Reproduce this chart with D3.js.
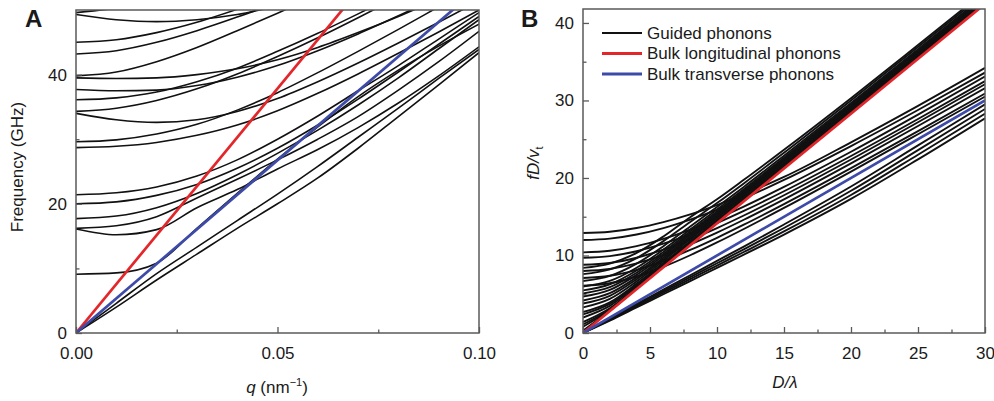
<!DOCTYPE html>
<html><head><meta charset="utf-8">
<script src="https://cdn.jsdelivr.net/npm/d3@7"></script>
<style>
body{margin:0;background:#fff;}
svg{font-family:Arial,"Liberation Sans",sans-serif;}
</style></head><body>
<svg id="chart" width="994" height="401"></svg>
<script>
// ---------- Panel A data ----------
const qGridA = [0, 0.01, 0.02, 0.03, 0.04, 0.05, 0.06, 0.07, 0.08, 0.09, 0.10];
const guidedA = [
  [0, 4.0, 8.2, 12.2, 16.2, 20.0, 24.0, 28.6, 33.5, 38.4, 43.4],
  [0, 4.6, 9.2, 13.3, 17.4, 21.5, 25.8, 30.3, 34.8, 39.4, 43.9],
  [9.1, 9.3, 10.8, 16.2, 21.6, 26.9, 31.9, 36.6, 40.7, 44.4, 47.8],
  [16.1, 15.2, 16.0, 19.4, 22.2, 25.4, 28.4, 31.8, 35.6, 39.8, 44.3],
  [16.2, 16.6, 18.0, 20.9, 23.8, 26.8, 30.0, 33.5, 37.6, 42.0, 46.7],
  [17.7, 18.1, 19.4, 21.6, 24.5, 27.8, 31.4, 35.3, 39.5, 44.0, 48.5],
  [20.0, 20.3, 21.3, 23.0, 25.5, 28.6, 32.2, 36.2, 40.4, 44.7, 49.0],
  [21.4, 21.7, 22.6, 24.3, 26.8, 30.0, 33.6, 37.5, 41.4, 45.5, 49.6],
  [28.7, 28.9, 29.5, 30.6, 32.2, 34.4, 37.1, 40.1, 43.3, 46.6, 50.0],
  [29.6, 29.9, 30.8, 32.3, 34.5, 37.2, 40.3, 43.6, 47.0, 50.5, 54.0],
  [34.0, 33.0, 32.6, 33.0, 34.3, 36.3, 38.9, 41.8, 44.9, 48.1, 51.4],
  [34.3, 34.8, 36.0, 37.8, 40.1, 42.8, 45.7, 48.8, 52.0],
  [36.1, 36.4, 37.3, 38.9, 41.0, 43.6, 46.4, 49.4, 52.5],
  [37.7, 37.5, 37.6, 38.3, 39.6, 41.4, 43.7, 46.3, 49.1, 52.0],
  [39.5, 39.4, 39.5, 40.0, 40.9, 42.3, 44.2, 46.5, 49.0, 51.7],
  [39.8, 40.4, 42.0, 44.2, 46.8, 49.5, 52.3],
  [43.2, 43.7, 45.0, 46.8, 48.9, 51.2],
  [45.0, 45.4, 46.5, 48.1, 50.1, 52.3],
  [49.3, 48.5, 48.2, 48.5, 49.3, 50.6],
  [49.6, 50.3, 51.5]
];
const bulkSpeedsA = [757, 535];            // longitudinal, transverse (GHz·nm)
const xTicksA = [0, 0.05, 0.10];
const xMinorA = [0.025, 0.075];
const yTicksA = [0, 20, 40];
const yMinorA = [10, 30];

// ---------- Panel B data ----------
const xGridB = [0, 2, 4, 6, 8, 10, 12, 15, 20, 25, 30];
const guidedB = [
  // modes bunching along the longitudinal line
  [0.3, 2.86, 5.7, 8.54, 11.37, 14.2, 17.03, 21.28, 28.35, 35.43, 42.5],
  [0.8, 2.96, 5.76, 8.59, 11.43, 14.25, 17.08, 21.32, 28.39, 35.47, 42.54],
  [1.1, 3.06, 5.81, 8.64, 11.47, 14.29, 17.12, 21.36, 28.42, 35.5, 42.56],
  [1.4, 3.19, 5.89, 8.69, 11.53, 14.34, 17.16, 21.4, 28.46, 35.53, 42.59],
  [2.0, 3.5, 6.08, 8.83, 11.65, 14.44, 17.25, 21.48, 28.52, 35.59, 42.65],
  [2.4, 3.75, 6.23, 8.96, 11.74, 14.52, 17.32, 21.54, 28.57, 35.63, 42.69],
  [2.7, 3.95, 6.37, 9.05, 11.83, 14.6, 17.38, 21.59, 28.62, 35.67, 42.73],
  [3.3, 4.41, 6.66, 9.32, 12.09, 14.83, 17.6, 21.78, 28.79, 35.83, 42.88],
  [3.8, 4.8, 6.93, 9.53, 12.28, 14.99, 17.74, 21.91, 28.89, 35.92, 42.96],
  [4.2, 5.14, 7.18, 9.73, 12.45, 15.14, 17.87, 22.02, 28.99, 36.01, 43.04],
  [4.7, 5.56, 7.5, 9.98, 12.68, 15.33, 18.04, 22.16, 29.11, 36.11, 43.13],
  [5.1, 5.91, 7.77, 10.2, 12.86, 15.49, 18.18, 22.28, 29.21, 36.2, 43.21],
  [5.5, 6.27, 8.06, 10.45, 13.09, 15.68, 18.35, 22.43, 29.33, 36.3, 43.3],
  [6.0, 6.72, 8.42, 10.77, 13.36, 15.92, 18.56, 22.61, 29.48, 36.43, 43.42],
  [6.7, 7.36, 8.95, 11.2, 13.75, 16.26, 18.85, 22.87, 29.68, 36.6, 43.58],
  [7.6, 8.21, 9.67, 11.85, 14.33, 16.76, 19.3, 23.25, 30.0, 36.89, 43.83],
  [8.4, 8.96, 10.33, 12.45, 14.94, 17.25, 19.76, 23.64, 30.3, 37.16, 44.07],
  // modes approaching the transverse line from above
  [12.9, 13.06, 13.54, 14.31, 15.31, 16.51, 17.87, 20.13, 24.6, 29.3, 34.2],
  [12.0, 12.18, 12.71, 13.54, 14.63, 15.92, 17.37, 19.75, 24.12, 28.77, 33.6],
  [10.4, 10.61, 11.21, 12.15, 13.35, 14.76, 16.31, 18.84, 23.38, 28.17, 33.1],
  [9.7, 9.92, 10.55, 11.52, 12.75, 14.18, 15.75, 18.29, 22.84, 27.61, 32.5],
  [8.8, 9.03, 9.71, 10.75, 12.05, 13.54, 15.16, 17.77, 22.38, 27.19, 32.1],
  [8.0, 8.26, 8.98, 10.07, 11.42, 12.95, 14.61, 17.25, 21.89, 26.7, 31.6],
  [7.1, 7.38, 8.15, 9.31, 10.71, 12.28, 13.97, 16.63, 21.27, 26.05, 30.9],
  [6.1, 6.42, 7.29, 8.54, 10.03, 11.68, 13.42, 16.14, 20.83, 25.64, 30.5],
  // fundamental modes below the transverse line
  [0, 1.6, 3.3, 5.0, 6.7, 8.4, 10.1, 12.7, 17.3, 22.4, 27.7],
  [0, 1.7, 3.45, 5.2, 6.95, 8.7, 10.45, 13.1, 17.8, 23.0, 28.3],
  [0, 1.8, 3.6, 5.4, 7.2, 9.0, 10.8, 13.55, 18.35, 23.6, 28.9],
  [0, 1.9, 3.75, 5.6, 7.45, 9.3, 11.15, 14.0, 18.9, 24.2, 29.5]
];
const bulkSlopesB = [1.415, 1.0];          // longitudinal, transverse (normalised)
const xTicksB = [0, 5, 10, 15, 20, 25, 30];
const xMinorB = [2.5, 7.5, 12.5, 17.5, 22.5, 27.5];
const yTicksB = [0, 10, 20, 30, 40];
const yMinorB = [5, 15, 25, 35];
const legendLabels = ["Guided phonons", "Bulk longitudinal phonons", "Bulk transverse phonons"];
const seriesColors = ["#111111", "#e3262a", "#3d4aa8"];

// ---------- drawing ----------
const svg = d3.select("#chart");
const FRAME = "#5a5a5a", TXT = "#1a1a1a";

const xA = d3.scaleLinear().domain([0, 0.10]).range([76, 479]);
const yA = d3.scaleLinear().domain([0, 50]).range([333, 10]);
const xB = d3.scaleLinear().domain([0, 30]).range([583, 985]);
const yB = d3.scaleLinear().domain([0, 41.8]).range([333, 9]);

function clip(id, x, y) {
  svg.append("clipPath").attr("id", id).append("rect")
    .attr("x", x.range()[0]).attr("y", y.range()[1])
    .attr("width", x.range()[1] - x.range()[0]).attr("height", y.range()[0] - y.range()[1]);
}
clip("clipA", xA, yA);
clip("clipB", xB, yB);

function drawCurves(x, y, grid, curves, bulk, clipId, width) {
  const g = svg.append("g").attr("clip-path", `url(#${clipId})`);
  const line = d3.line().x(d => x(d[0])).y(d => y(d[1])).curve(d3.curveMonotoneX);
  curves.forEach(c => {
    const pts = c.map((v, i) => [grid[i], v]);
    g.append("path").attr("d", line(pts)).attr("fill", "none")
      .attr("stroke", seriesColors[0]).attr("stroke-width", width);
  });
  const xmax = x.domain()[1];
  bulk.forEach((s, i) => {
    const pts = [[0, 0], [xmax, s * xmax]];
    g.append("path").attr("d", d3.line().x(d => x(d[0])).y(d => y(d[1]))(pts))
      .attr("fill", "none").attr("stroke", seriesColors[i + 1]).attr("stroke-width", 2.7);
  });
}
drawCurves(xA, yA, qGridA, guidedA, bulkSpeedsA, "clipA", 1.6);
drawCurves(xB, yB, xGridB, guidedB, bulkSlopesB, "clipB", 1.9);

function axes(x, y, xMaj, xMin, yMaj, yMin, xFmt) {
  const y0 = y.range()[0], x0 = x.range()[0];
  const style = sel => {
    sel.select(".domain").remove();
    sel.selectAll("line").attr("stroke", FRAME).attr("stroke-width", 1.3);
    sel.selectAll("text").attr("fill", TXT).attr("font-size", 17)
      .attr("font-family", "Arial, 'Liberation Sans', sans-serif");
  };
  svg.append("g").attr("transform", `translate(0,${y0})`)
    .call(d3.axisBottom(x).tickValues(xMaj).tickFormat(xFmt).tickSize(-6).tickPadding(14)).call(style);
  svg.append("g").attr("transform", `translate(0,${y0})`)
    .call(d3.axisBottom(x).tickValues(xMin).tickFormat("").tickSize(-3.5)).call(style);
  svg.append("g").attr("transform", `translate(${x0},0)`)
    .call(d3.axisLeft(y).tickValues(yMaj).tickFormat(d3.format("d")).tickSize(-6).tickPadding(9)).call(style);
  svg.append("g").attr("transform", `translate(${x0},0)`)
    .call(d3.axisLeft(y).tickValues(yMin).tickFormat("").tickSize(-3.5)).call(style);
  svg.append("rect").attr("x", x.range()[0]).attr("y", y.range()[1])
    .attr("width", x.range()[1] - x.range()[0]).attr("height", y.range()[0] - y.range()[1])
    .attr("fill", "none").attr("stroke", FRAME).attr("stroke-width", 1.5);
}
axes(xA, yA, xTicksA, xMinorA, yTicksA, yMinorA, d3.format(".2f"));
axes(xB, yB, xTicksB, xMinorB, yTicksB, yMinorB, d3.format("d"));

// panel letters
svg.append("text").attr("x", 25).attr("y", 27).attr("font-size", 24).attr("font-weight", "bold")
  .attr("fill", TXT).text("A");
svg.append("text").attr("x", 521).attr("y", 27).attr("font-size", 24).attr("font-weight", "bold")
  .attr("fill", TXT).text("B");

// axis titles
const tA = svg.append("text").attr("x", 277).attr("y", 393).attr("text-anchor", "middle")
  .attr("font-size", 17).attr("fill", TXT);
tA.append("tspan").attr("font-style", "italic").text("q");
tA.append("tspan").text(" (nm");
tA.append("tspan").attr("dy", -7).attr("font-size", 11).text("\u22121");
tA.append("tspan").attr("dy", 7).text(")");

svg.append("text").attr("transform", "translate(23,167) rotate(-90)").attr("text-anchor", "middle")
  .attr("font-size", 17).attr("fill", TXT).text("Frequency (GHz)");

svg.append("text").attr("x", 785).attr("y", 388).attr("text-anchor", "middle")
  .attr("font-size", 17).attr("fill", TXT).attr("font-style", "italic").text("D/\u03bb");

const yl = svg.append("text").attr("transform", "translate(539,163) rotate(-90)").attr("text-anchor", "middle")
  .attr("font-size", 17).attr("fill", TXT);
yl.append("tspan").attr("font-style", "italic").text("fD/v");
yl.append("tspan").attr("dy", 4).attr("font-size", 11).text("t");

// legend
const leg = svg.append("g");
legendLabels.forEach((lab, i) => {
  const yy = 33 + i * 20.5;
  leg.append("line").attr("x1", 602).attr("x2", 642).attr("y1", yy).attr("y2", yy)
    .attr("stroke", seriesColors[i]).attr("stroke-width", i === 0 ? 1.8 : 2.8);
  leg.append("text").attr("x", 647).attr("y", yy).attr("dy", "0.35em")
    .attr("font-size", 17).attr("fill", TXT).text(lab);
});
</script>
</body></html>
